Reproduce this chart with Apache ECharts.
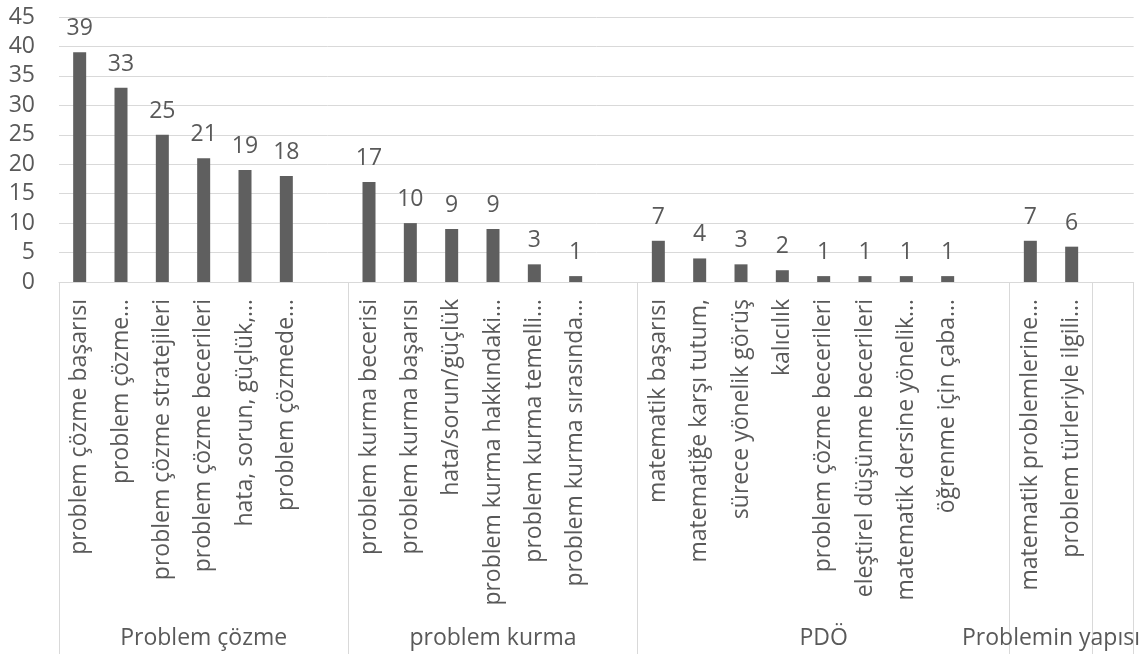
<!DOCTYPE html>
<html>
<head>
<meta charset="utf-8">
<script src="https://cdn.jsdelivr.net/npm/echarts@6/dist/echarts.min.js"></script>
<style>
  html, body { margin: 0; padding: 0; background: #fff; }
  #myCharts { width: 1143px; height: 654px; }
</style>
</head>
<body>
<div id="myCharts"></div>
<script>
// groups of the two-level category axis ("" = empty slot between groups)
var groupNames = ["Problem çözme", "problem kurma", "PDÖ", "Problemin yapısı", ""];

var cozmeItems = ["problem çözme başarısı", "problem çözme…", "problem çözme stratejileri",
  "problem çözme becerileri", "hata, sorun, güçlük,…", "problem çözmede…", ""];
var cozmeValues = [39, 33, 25, 21, 19, 18, "-"];

var kurmaItems = ["problem kurma becerisi", "problem kurma başarısı", "hata/sorun/güçlük",
  "problem kurma hakkındaki…", "problem kurma temelli…", "problem kurma sırasında…", ""];
var kurmaValues = [17, 10, 9, 9, 3, 1, "-"];

var pdoItems = ["matematik başarısı", "matematiğe karşı tutum,", "sürece yönelik görüş", "kalıcılık",
  "problem çözme becerileri", "eleştirel düşünme becerileri", "matematik dersine yönelik…",
  "öğrenme için çaba…", ""];
var pdoValues = [7, 4, 3, 2, 1, 1, 1, 1, "-"];

var yapiItems = ["matematik problemlerine…", "problem türleriyle ilgili…"];
var yapiValues = [7, 6];

var bosItems = [""];
var bosValues = ["-"];

var yTicks = [0, 5, 10, 15, 20, 25, 30, 35, 40, 45];

var groupItems = [cozmeItems, kurmaItems, pdoItems, yapiItems, bosItems];
var categories = [].concat(cozmeItems, kurmaItems, pdoItems, yapiItems, bosItems);
var values = [].concat(cozmeValues, kurmaValues, pdoValues, yapiValues, bosValues);

// outer level: points on half-slot edges, so group centers and borders fall on indices
var outerData = [];
for (var i = 0; i <= categories.length * 2; i++) outerData.push("");
var borders = {0: true};
var pos = 0;
groupItems.forEach(function (items, g) {
  outerData[pos * 2 + items.length] = groupNames[g];
  pos += items.length;
  borders[pos * 2] = true;
});

var textColor = "#595959";
var lineColor = "#d9d9d9";
var font = "'Open Sans', 'DejaVu Sans', sans-serif";
var fs = 23;

var myChart = echarts.init(document.getElementById("myCharts"));
var option = {
  animation: false,
  textStyle: { fontFamily: font },
  grid: { left: 59, right: 5, top: 17, bottom: 372 },
  xAxis: [
    {
      type: "category",
      data: categories,
      axisLine: { lineStyle: { color: lineColor } },
      axisTick: { show: false },
      axisLabel: {
        interval: 0,
        rotate: 90,
        margin: 17,
        color: textColor,
        fontSize: fs,
        fontFamily: font,
        padding: [0, 0, 6, 0]
      }
    },
    {
      type: "category",
      data: outerData,
      position: "bottom",
      boundaryGap: false,
      axisLine: { show: false },
      axisTick: {
        show: true,
        interval: function (index) { return !!borders[index]; },
        length: 372,
        lineStyle: { color: lineColor }
      },
      axisLabel: {
        interval: 0,
        margin: 345,
        color: textColor,
        fontSize: fs,
        fontFamily: font
      }
    }
  ],
  yAxis: {
    type: "value",
    min: yTicks[0],
    max: yTicks[yTicks.length - 1],
    interval: yTicks[1] - yTicks[0],
    axisLine: { show: false },
    axisTick: { show: false },
    splitLine: { lineStyle: { color: lineColor } },
    axisLabel: { color: textColor, fontSize: fs, margin: 24, fontFamily: font }
  },
  series: [
    {
      type: "bar",
      data: values,
      barWidth: 13,
      itemStyle: { color: "#5f5f5f" },
      label: {
        show: true,
        position: "top",
        distance: 12,
        color: textColor,
        fontSize: fs,
        fontFamily: font
      }
    }
  ]
};
myChart.setOption(option);
</script>
</body>
</html>
